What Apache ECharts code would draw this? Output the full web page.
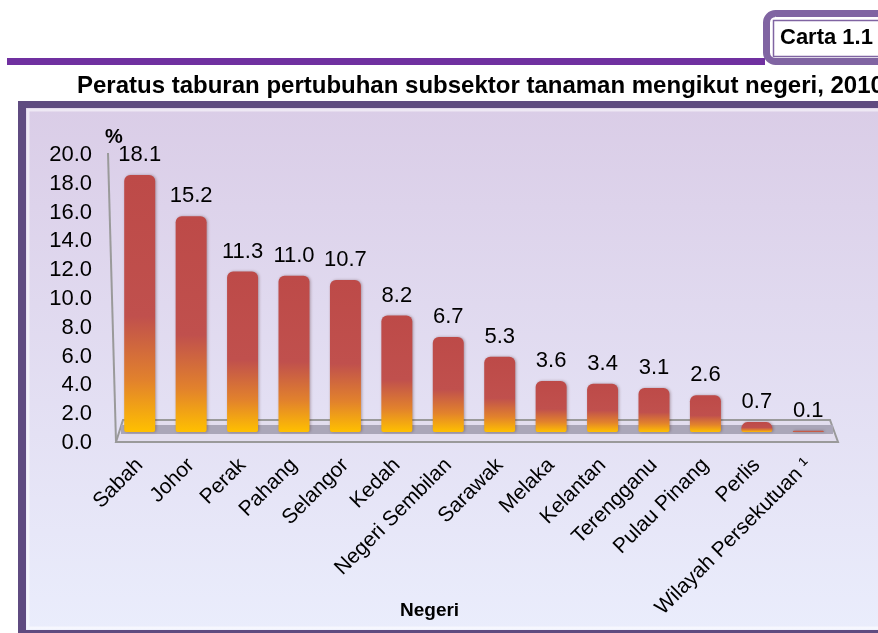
<!DOCTYPE html>
<html>
<head>
<meta charset="utf-8">
<script src="https://cdn.jsdelivr.net/npm/echarts@6/dist/echarts.min.js"></script>
<style>
  html, body { margin: 0; padding: 0; background: #fff; }
  #main { width: 878px; height: 633px; }
</style>
</head>
<body>
<div id="main"></div>
<script>
// data
var negeri = ['Sabah', 'Johor', 'Perak', 'Pahang', 'Selangor', 'Kedah', 'Negeri Sembilan',
    'Sarawak', 'Melaka', 'Kelantan', 'Terengganu', 'Pulau Pinang', 'Perlis', 'Wilayah Persekutuan ¹'];
var peratus = [18.1, 15.2, 11.3, 11.0, 10.7, 8.2, 6.7, 5.3, 3.6, 3.4, 3.1, 2.6, 0.7, 0.1];
var yTicks = [0, 20, 2];   // min, max, step

var font = 'Liberation Sans, Arial, sans-serif';

(function() {
    var myChart = echarts.init(document.getElementById('main'));

    var barColor = new echarts.graphic.LinearGradient(0, 0, 0, 1, [
        { offset: 0, color: '#bd4a48' },
        { offset: 0.55, color: '#c0504d' },
        { offset: 0.8, color: '#e2822c' },
        { offset: 1, color: '#ffc000' }
    ]);

    var option = {
        textStyle: { fontFamily: font },
        animation: false,
        title: [
            { text: 'Peratus taburan pertubuhan subsektor tanaman mengikut negeri, 2010',
              left: 77, top: 74, padding: 0,
              textStyle: { fontSize: 24, fontWeight: 'bold', color: '#000', fontFamily: font } },
            { text: 'Carta 1.1', left: 780, top: 27, padding: 0,
              textStyle: { fontSize: 22, fontWeight: 'bold', color: '#000', fontFamily: font } },
            { text: 'Negeri', left: 400, top: 601, padding: 0,
              textStyle: { fontSize: 19, fontWeight: 'bold', color: '#000', fontFamily: font } }
        ],
        graphic: [
            // header line + label box
            { type: 'rect', z: -10, shape: { x: 7, y: 58, width: 758, height: 7 }, style: { fill: '#7030a0' } },
            { type: 'rect', z: -9, shape: { x: 766.5, y: 13.5, width: 130, height: 48, r: 9 },
              style: { fill: '#fff', stroke: '#8064a2', lineWidth: 7 } },
            { type: 'rect', z: -8, shape: { x: 773.5, y: 20.5, width: 120, height: 36 },
              style: { fill: '#fff', stroke: '#8064a2', lineWidth: 1.5 } },
            // chart frame
            { type: 'rect', z: -10, shape: { x: 18, y: 101, width: 900, height: 540 }, style: { fill: '#5f4b80' } },
            { type: 'rect', z: -9, shape: { x: 26, y: 108, width: 890, height: 522 },
              style: { fill: new echarts.graphic.LinearGradient(0, 0, 0, 1, [
                  { offset: 0, color: '#dacde7' }, { offset: 1, color: '#eaedfc' }]) } },
            { type: 'rect', z: -8, shape: { x: 28, y: 110, width: 886, height: 518 },
              style: { fill: 'none', stroke: 'rgba(255,255,255,0.55)', lineWidth: 3 } },
            // floor
            { type: 'polygon', z: 1, shape: { points: [[123, 420], [830, 420], [838, 442], [116, 442]] },
              style: { fill: 'rgba(225,220,236,0.8)', stroke: '#9a9a9a', lineWidth: 2 } },
            { type: 'rect', z: 1, shape: { x: 121, y: 425, width: 712, height: 9 }, style: { fill: '#aaa6b8' } },
            { type: 'line', z: 1, shape: { x1: 108, y1: 153, x2: 116, y2: 442 },
              style: { stroke: '#9a9a9a', lineWidth: 2 } }
        ],
        grid: { left: 114, right: 44, top: 155, bottom: 190 },
        xAxis: {
            type: 'category',
            data: negeri,
            axisLine: { show: false },
            axisTick: { show: false },
            axisLabel: { interval: 0, rotate: 45, margin: 19, fontSize: 21, color: '#000', fontFamily: font }
        },
        yAxis: [
            {
                type: 'value',
                min: yTicks[0], max: yTicks[1], interval: yTicks[2],
                name: '%',
                nameGap: 8,
                nameTextStyle: { fontSize: 20, fontWeight: 'bold', color: '#000', fontFamily: font },
                axisLine: { show: false },
                axisTick: { show: false },
                splitLine: { show: false },
                axisLabel: { fontSize: 22, color: '#000', margin: 22, fontFamily: font,
                    formatter: function(v) { return v.toFixed(1); } }
            },
            {
                // bar scale sits a little above the label scale (3D floor)
                type: 'value', show: false,
                min: -0.77, max: 19.51,
                splitLine: { show: false }
            }
        ],
        series: [{
            type: 'bar',
            yAxisIndex: 1,
            data: peratus,
            barWidth: 31,
            itemStyle: {
                color: barColor,
                borderRadius: [6, 6, 2, 2],
                shadowColor: 'rgba(60,20,20,0.35)',
                shadowBlur: 3,
                shadowOffsetX: 1
            },
            label: {
                show: true,
                position: 'top',
                distance: 9,
                fontSize: 22,
                color: '#000',
                fontFamily: font,
                formatter: function(p) { return p.value.toFixed(1); }
            }
        }]
    };

    myChart.setOption(option);
})();
</script>
</body>
</html>
